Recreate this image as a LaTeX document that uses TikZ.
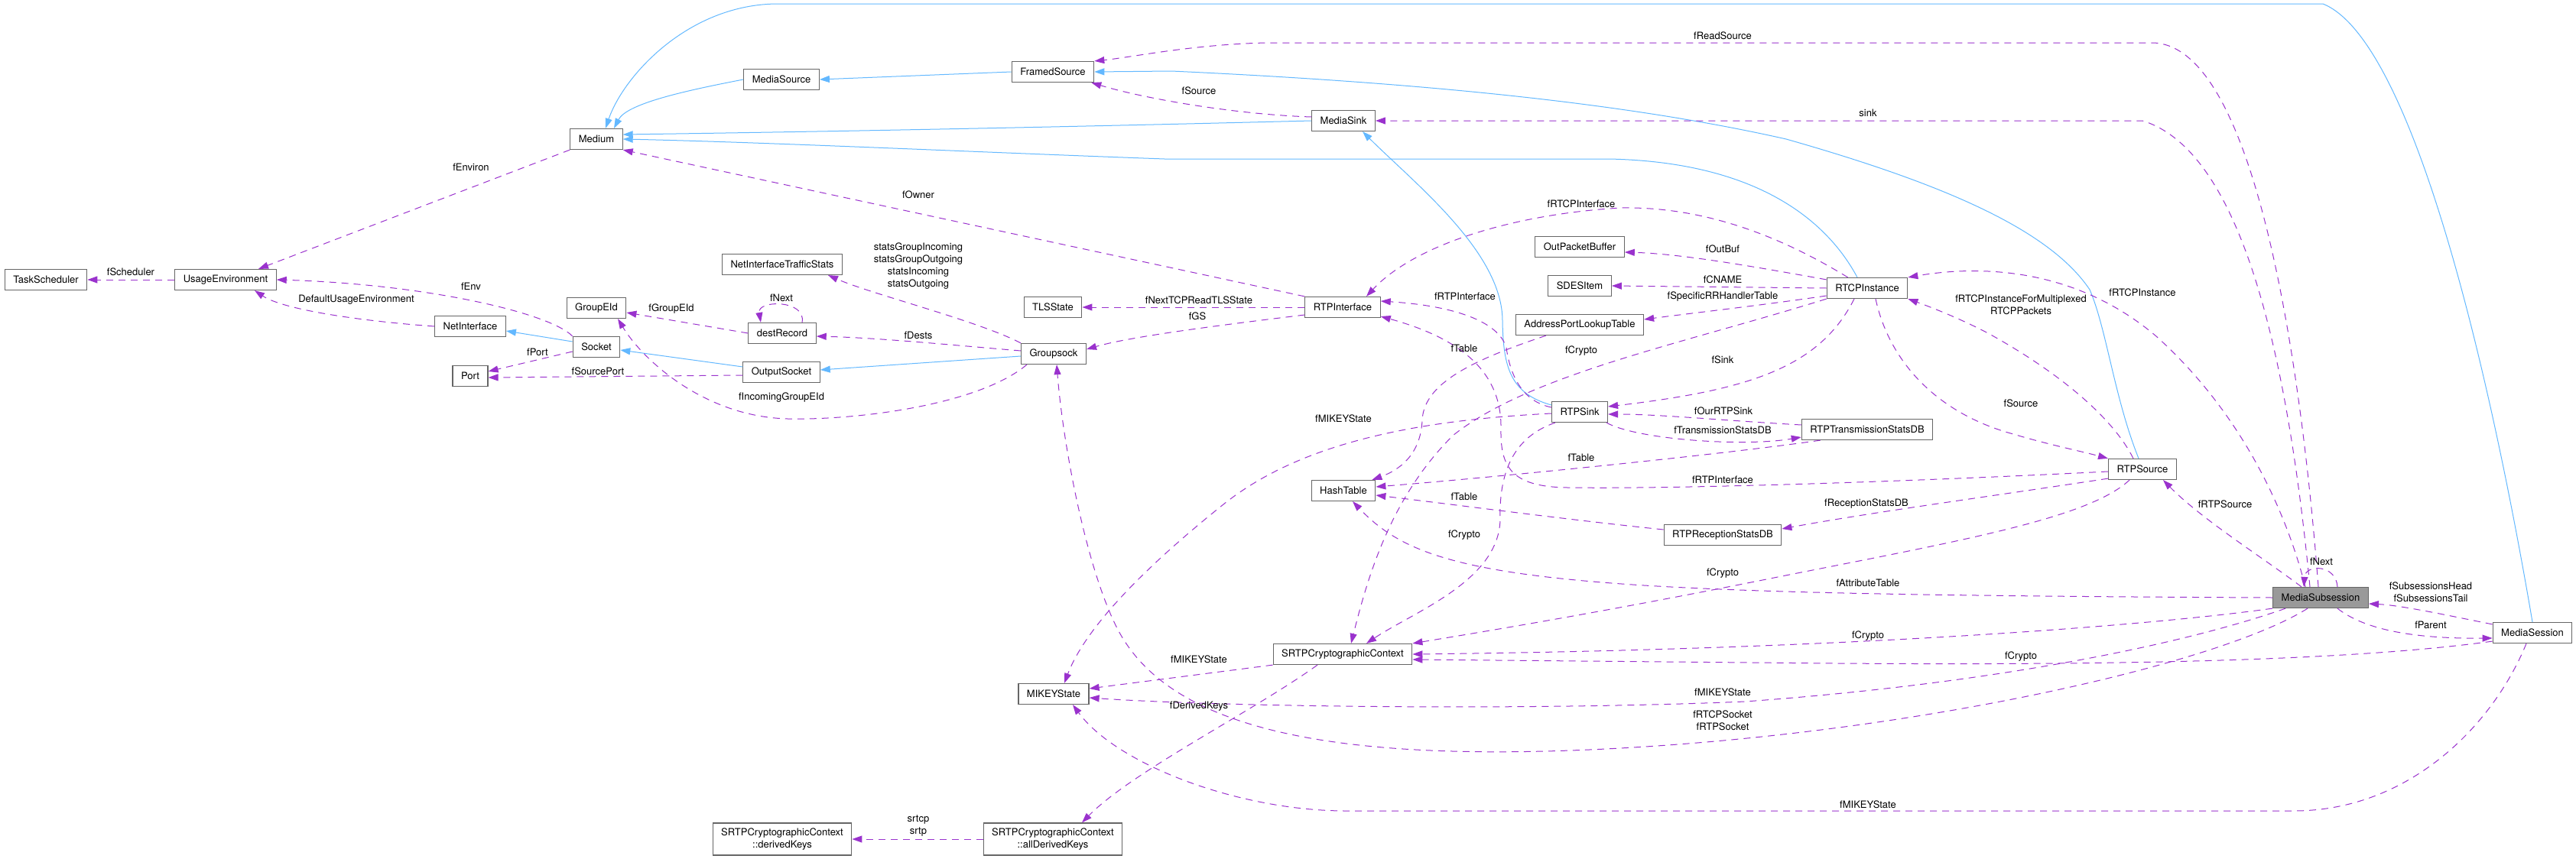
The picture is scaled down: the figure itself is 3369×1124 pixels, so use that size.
\documentclass[tikz,border=0pt]{standalone}
\usepackage{fontspec}
\setmainfont{TeX Gyre Heros}
\usepackage{tikz}
\usetikzlibrary{arrows.meta,calc,positioning}
\definecolor{usecol}{HTML}{9A32CD}
\definecolor{inhcol}{HTML}{63B8FF}
\definecolor{boxcol}{HTML}{666666}
\definecolor{focusfill}{HTML}{999999}

\begin{document}
\begin{tikzpicture}[x=0.5pt,y=-0.5pt,
  every node/.style={font=\fontsize{6.5}{8}\selectfont},
  cls/.style={draw=boxcol,line width=0.6pt,fill=white,inner xsep=5.5pt,inner ysep=1pt,minimum height=13.5pt,align=center},
  cls2/.style={cls,minimum height=21pt},
  lbl/.style={inner sep=0pt,align=center},
  use/.style={draw=usecol,line width=0.5pt,dash pattern=on 4.5pt off 3.5pt,-{Triangle[length=6.5pt,width=4.5pt]}},
  inh/.style={draw=inhcol,line width=0.5pt,-{Triangle[length=6.5pt,width=4.5pt]}}]
  \useasboundingbox (0,0) rectangle (3369,1124);

  \node[cls] (tasksched) at (60,366) {TaskScheduler};
  \node[cls] (usageenv) at (295,366) {UsageEnvironment};
  \node[cls] (medium) at (780,182) {Medium};
  \node[cls] (mediasrc) at (1022,104) {MediaSource};
  \node[cls] (framedsrc) at (1377,94) {FramedSource};
  \node[cls] (ifstats) at (1023,346) {NetInterfaceTrafficStats};
  \node[cls] (groupeid) at (780,403) {GroupEId};
  \node[cls] (destrec) at (1023,436) {destRecord};
  \node[cls] (netif) at (615,427) {NetInterface};
  \node[cls] (socket) at (780,454) {Socket};
  \node[cls] (port) at (615,492) {Port};
  \node[cls] (outsock) at (1022,487) {OutputSocket};
  \node[cls] (tlsstate) at (1377,402) {TLSState};
  \node[cls] (groupsock) at (1378,463) {Groupsock};
  \node[cls] (mediasink) at (1757,158) {MediaSink};
  \node[cls] (rtpif) at (1756,402) {RTPInterface};
  \node[cls] (outbuf) at (2066,323) {OutPacketBuffer};
  \node[cls] (sdes) at (2066,374) {SDESItem};
  \node[cls] (lookup) at (2066,425) {AddressPortLookupTable};
  \node[cls] (rtcp) at (2442,377) {RTCPInstance};
  \node[cls] (rtpsink) at (2066,539) {RTPSink};
  \node[cls] (txstats) at (2442,562) {RTPTransmissionStatsDB};
  \node[cls] (rxstats) at (2253,700) {RTPReceptionStatsDB};
  \node[cls] (rtpsrc) at (2802,614) {RTPSource};
  \node[cls] (hashtab) at (1757,642) {HashTable};
  \node[cls] (srtp) at (1756,856) {SRTPCryptographicContext};
  \node[cls] (mikey) at (1378,908) {MIKEYState};
  \node[cls2] (allkeys) at (1377,1098) {SRTPCryptographicContext\\::allDerivedKeys};
  \node[cls2] (keys) at (1023,1098) {SRTPCryptographicContext\\::derivedKeys};
  \node[cls,fill=focusfill] (msub) at (3035,782) {MediaSubsession};
  \node[cls] (msession) at (3312,828) {MediaSession};

  \draw[inh] (mediasrc.west) .. controls (900,118) and (820,135) .. ($(medium.north)+(23,0)$);
  \draw[inh] (framedsrc.west) -- (mediasrc.east);
  \draw[inh] (mediasink.west) .. controls (1400,166) and (1100,172) .. ($(medium.east)+(0,-6)$);
  \draw[inh] ($(rtcp.north)+(-13,0)$) .. controls (2390,290) and (2300,212) .. (2104,208) -- (1523,208) .. controls (1300,200) and (1000,186) .. (medium.east);
  \draw[inh] (msession.north) .. controls (3250,450) and (3150,50) .. (3038,5) -- (1018,5) .. controls (900,5) and (815,100) .. ($(medium.north)+(12,0)$);
  \draw[inh] ($(rtpsrc.north)+(-5,0)$) .. controls (2765,520) and (2755,430) .. (2733,379) .. controls (2680,300) and (2540,240) .. (2336,182) .. controls (2150,140) and (1900,110) .. (1532,93) -- (framedsrc.east);
  \draw[inh] ($(rtpsink.west)+(0,-9)$) .. controls (1975,515) and (1966,480) .. (1965,420) .. controls (1965,330) and (1850,240) .. ($(mediasink.south)+(25,0)$);
  \draw[inh] ($(socket.west)+(0,-7)$) -- ($(netif.east)+(0,6)$);
  \draw[inh] ($(outsock.west)+(0,-7)$) -- ($(socket.east)+(0,4)$);
  \draw[inh] ($(groupsock.west)+(0,3)$) -- ($(outsock.east)+(0,-3)$);

  \draw[use] (medium.south west) -- ($(usageenv.north)+(43,0)$);
  \draw[use] (usageenv.west) -- (tasksched.east);
  \draw[use] (socket.north west) .. controls (720,410) and (560,372) .. (usageenv.east);
  \draw[use] (netif.west) .. controls (470,420) and (370,405) .. ($(usageenv.south)+(38,0)$);
  \draw[use] (destrec.west) -- ($(groupeid.east)+(0,6)$);
  \draw[use] ($(destrec.north)+(26,0)$) .. controls (1055,392) and (990,392) .. ($(destrec.north)+(-28,0)$);
  \draw[use] ($(groupsock.west)+(0,-4)$) .. controls (1250,452) and (1150,442) .. ($(destrec.east)+(0,4)$);
  \draw[use] (groupsock.north west) .. controls (1280,420) and (1140,385) .. ($(ifstats.south)+(60,0)$);
  \draw[use] ($(groupsock.south west)+(8,0)$) .. controls (1280,530) and (1120,550) .. (1030,548) .. controls (920,545) and (840,470) .. ($(groupeid.south)+(28,0)$);
  \draw[use] ($(socket.west)+(0,6)$) -- ($(port.east)+(0,-6)$);
  \draw[use] ($(outsock.west)+(0,4)$) -- ($(port.east)+(0,2)$);
  \draw[use] (rtpif.north west) -- (medium.south east);
  \draw[use] (rtpif.west) -- (tlsstate.east);
  \draw[use] ($(rtpif.west)+(0,10)$) .. controls (1600,425) and (1480,440) .. ($(groupsock.east)+(0,-6)$);
  \draw[use] ($(rtcp.north west)+(28,0)$) .. controls (2330,310) and (2230,270) .. (2120,272) .. controls (1980,280) and (1850,320) .. ($(rtpif.north)+(31,0)$);
  \draw[use] ($(rtcp.north west)+(0,3)$) .. controls (2300,350) and (2200,332) .. ($(outbuf.east)+(0,7)$);
  \draw[use] (rtcp.west) -- (sdes.east);
  \draw[use] ($(rtcp.west)+(0,10)$) .. controls (2300,400) and (2210,410) .. ($(lookup.east)+(0,-7)$);
  \draw[use] ($(rtcp.south)+(-17,0)$) .. controls (2380,480) and (2290,510) .. ($(rtpsink.east)+(0,-7)$);
  \draw[use] (rtcp.south west) .. controls (2200,450) and (2000,490) .. (1900,570) .. controls (1820,650) and (1790,750) .. ($(srtp.north)+(11,0)$);
  \draw[use] ($(rtcp.south)+(11,0)$) .. controls (2470,470) and (2530,540) .. (2633,568) .. controls (2680,582) and (2720,590) .. (rtpsrc.north west);
  \draw[use] ($(rtpsrc.north)+(-12,0)$) .. controls (2760,540) and (2680,480) .. (2600,436) .. controls (2560,415) and (2520,400) .. (rtcp.south east);
  \draw[use] ($(msub.north)+(-20,0)$) .. controls (2985,650) and (2920,530) .. (2820,440) .. controls (2720,355) and (2600,345) .. (rtcp.north east);
  \draw[use] ($(msub.north)+(-14,0)$) .. controls (2995,500) and (2940,200) .. (2802,158) -- (mediasink.east);
  \draw[use] ($(msub.north)+(-3,0)$) .. controls (3010,480) and (2950,60) .. (2816,56) -- (1657,56) .. controls (1560,58) and (1480,75) .. (framedsrc.north east);
  \draw[use] ($(mediasink.west)+(0,-5)$) .. controls (1620,150) and (1500,130) .. ($(framedsrc.south east)+(-4,0)$);
  \draw[use] ($(rtpsink.west)+(0,-6)$) .. controls (1990,525) and (1975,490) .. (1970,455) .. controls (1960,420) and (1900,400) .. ($(rtpif.east)+(0,-8)$);
  \draw[use] ($(rtpsrc.west)+(0,3)$) .. controls (2500,630) and (2200,640) .. (2050,638) .. controls (1975,637) and (1962,610) .. (1963,560) .. controls (1964,480) and (1900,440) .. ($(rtpif.east)+(0,12)$);
  \draw[use] ($(lookup.south west)+(40,0)$) .. controls (1930,470) and (1862,500) .. (1860,550) .. controls (1858,595) and (1830,615) .. ($(hashtab.north east)+(-5,0)$);
  \draw[use] ($(txstats.south west)+(25,0)$) .. controls (2250,595) and (1950,625) .. ($(hashtab.east)+(0,-5)$);
  \draw[use] ($(rxstats.west)+(0,-7)$) .. controls (2050,680) and (1900,660) .. ($(hashtab.east)+(0,6)$);
  \draw[use] (msub.west) .. controls (2500,780) and (2300,775) .. (2150,766) .. controls (1900,750) and (1830,720) .. ($(hashtab.south)+(12,0)$);
  \draw[use] (msub.south west) .. controls (2800,820) and (2400,850) .. (srtp.east);
  \draw[use] ($(msession.south west)+(0,-3)$) .. controls (3050,868) and (2700,870) .. (2400,868) -- ($(srtp.east)+(0,7)$);
  \draw[use] ($(msub.south west)+(17,0)$) .. controls (2850,845) and (2600,895) .. (2282,918) .. controls (2000,930) and (1600,925) .. ($(mikey.east)+(0,5)$);
  \draw[use] ($(msub.south)+(-17,0)$) .. controls (2900,870) and (2500,960) .. (2100,980) .. controls (1700,1000) and (1520,940) .. (1460,820) .. controls (1420,740) and (1390,580) .. ($(groupsock.south)+(4,0)$);
  \draw[use] ($(msub.north)+(-25,0)$) .. controls (2960,730) and (2880,680) .. ($(rtpsrc.south east)+(-18,0)$);
  \draw[use] ($(msub.north)+(22,0)$) .. controls (3055,738) and (3015,738) .. ($(msub.north)+(-22,0)$);
  \draw[use] ($(msession.north west)+(0,3)$) .. controls (3200,805) and (3140,792) .. ($(msub.east)+(0,8)$);
  \draw[use] ($(msub.south)+(22,0)$) .. controls (3090,822) and (3150,836) .. ($(msession.west)+(0,7)$);
  \draw[use] ($(msession.south)+(-8,0)$) .. controls (3260,950) and (3150,1061) .. (3000,1061) -- (1760,1061) .. controls (1620,1061) and (1460,1000) .. ($(mikey.south)+(25,0)$);
  \draw[use] ($(rtpsink.west)+(0,2)$) .. controls (1850,550) and (1700,580) .. (1600,660) .. controls (1500,740) and (1420,820) .. ($(mikey.north)+(14,0)$);
  \draw[use] ($(rtpsink.south west)+(5,0)$) .. controls (1985,570) and (1960,610) .. (1962,680) .. controls (1960,760) and (1850,800) .. ($(srtp.north)+(31,0)$);
  \draw[use] (srtp.south west) -- ($(mikey.east)+(0,-7)$);
  \draw[use] ($(srtp.south)+(-33,0)$) .. controls (1640,930) and (1480,1010) .. ($(allkeys.north)+(38,0)$);
  \draw[use] (allkeys.west) -- (keys.east);
  \draw[use] ($(rtpsrc.south west)+(0,-2)$) .. controls (2600,650) and (2450,670) .. ($(rxstats.east)+(0,-8)$);
  \draw[use] ($(rtpsrc.south)+(-17,0)$) .. controls (2730,680) and (2550,710) .. (2300,760) .. controls (2100,800) and (1950,825) .. (srtp.north east);
  \draw[use] ($(rtpsink.south east)+(-2,0)$) .. controls (2140,575) and (2280,585) .. ($(txstats.west)+(0,10)$);
  \draw[use] ($(txstats.west)+(0,-6)$) .. controls (2250,550) and (2170,542) .. ($(rtpsink.east)+(0,3)$);

  \node[lbl] (lEnviron) at (616,219) {fEnviron};
  \node[lbl] (lScheduler) at (171,356) {fScheduler};
  \node[lbl] (lEnv) at (616,375) {fEnv};
  \node[lbl] (lDefEnv) at (466,392) {DefaultUsageEnvironment};
  \node[lbl] (lGroupEId) at (878,404) {fGroupEId};
  \node[lbl] (lNextRec) at (1022,390) {fNext};
  \node[lbl] (lDests) at (1201,439) {fDests};
  \node[lbl] (lStats) at (1201,348) {statsGroupIncoming\\statsGroupOutgoing\\statsIncoming\\statsOutgoing};
  \node[lbl] (lIncoming) at (1022,520) {fIncomingGroupEId};
  \node[lbl] (lPort) at (703,461) {fPort};
  \node[lbl] (lSrcPort) at (782,486) {fSourcePort};
  \node[lbl] (lOwner) at (1201,255) {fOwner};
  \node[lbl] (lTLS) at (1568,393) {fNextTCPReadTLSState};
  \node[lbl] (lGS) at (1566,414) {fGS};
  \node[lbl] (lRTCPIf) at (2068,267) {fRTCPInterface};
  \node[lbl] (lOutBuf) at (2253,326) {fOutBuf};
  \node[lbl] (lCNAME) at (2253,366) {fCNAME};
  \node[lbl] (lRRTable) at (2253,388) {fSpecificRRHandlerTable};
  \node[lbl] (lSink) at (2253,471) {fSink};
  \node[lbl] (lCryptoRTCP) at (2068,459) {fCrypto};
  \node[lbl] (lSrcRTCP) at (2643,528) {fSource};
  \node[lbl] (lMux) at (2643,399) {fRTCPInstanceForMultiplexed\\RTCPPackets};
  \node[lbl] (lRTCPInst) at (2802,383) {fRTCPInstance};
  \node[lbl] (lSinkSub) at (2443,148) {sink};
  \node[lbl] (lReadSrc) at (2253,47) {fReadSource};
  \node[lbl] (lSrcSink) at (1568,119) {fSource};
  \node[lbl] (lRTPIfSink) at (1916,388) {fRTPInterface};
  \node[lbl] (lRTPIfSrc) at (2253,628) {fRTPInterface};
  \node[lbl] (lTabLookup) at (1915,456) {fTable};
  \node[lbl] (lTabTx) at (2068,599) {fTable};
  \node[lbl] (lTabRx) at (1915,650) {fTable};
  \node[lbl] (lAttr) at (2443,763) {fAttributeTable};
  \node[lbl] (lCryptoSub) at (2443,832) {fCrypto};
  \node[lbl] (lCryptoSess) at (2643,859) {fCrypto};
  \node[lbl] (lMikeySub) at (2253,906) {fMIKEYState};
  \node[lbl] (lSockets) at (2253,943) {fRTCPSocket\\fRTPSocket};
  \node[lbl] (lRTPSrc) at (2910,660) {fRTPSource};
  \node[lbl] (lNextSub) at (3036,735) {fNext};
  \node[lbl] (lHeadTail) at (3179,775) {fSubsessionsHead\\fSubsessionsTail};
  \node[lbl] (lParent) at (3179,818) {fParent};
  \node[lbl] (lMikeySess) at (2443,1053) {fMIKEYState};
  \node[lbl] (lMikeySink) at (1757,548) {fMIKEYState};
  \node[lbl] (lCryptoSink) at (1915,700) {fCrypto};
  \node[lbl] (lMikeySrtp) at (1568,863) {fMIKEYState};
  \node[lbl] (lDerived) at (1568,924) {fDerivedKeys};
  \node[lbl] (lSrtcp) at (1201,1081) {srtcp\\srtp};
  \node[lbl] (lRxStats) at (2441,659) {fReceptionStatsDB};
  \node[lbl] (lCryptoSrc) at (2253,750) {fCrypto};
  \node[lbl] (lTxStats) at (2253,563) {fTransmissionStatsDB};
  \node[lbl] (lOurSink) at (2254,538) {fOurRTPSink};
\end{tikzpicture}
\end{document}
